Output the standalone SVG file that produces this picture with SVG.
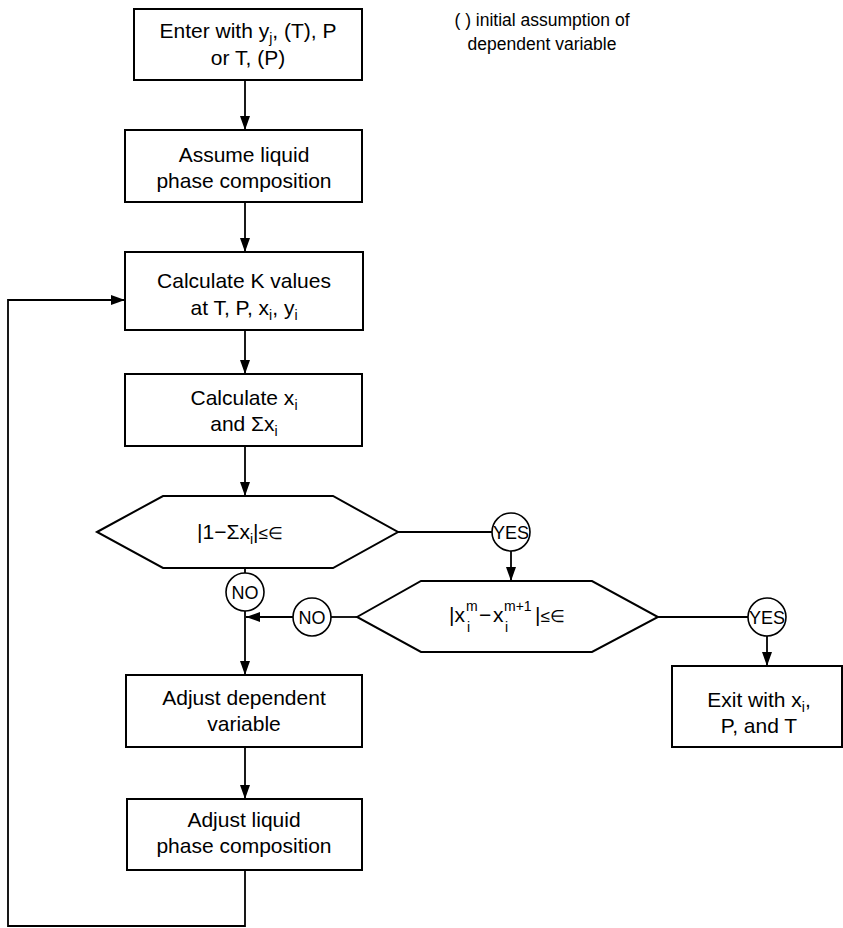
<svg xmlns="http://www.w3.org/2000/svg" width="843" height="928" viewBox="0 0 843 928">
<style>
.box{fill:#fff;stroke:#000;stroke-width:2}
.cir{fill:#fff;stroke:#000;stroke-width:1.6}
.t{font-family:"Liberation Sans",Arial,sans-serif;font-size:21px;fill:#000;text-anchor:middle}
.f{font-family:"Liberation Sans",Arial,sans-serif;font-size:21px;fill:#000}
.s{font-family:"Liberation Sans",Arial,sans-serif;font-size:14px;fill:#000}
.c{font-family:"Liberation Sans",Arial,sans-serif;font-size:18px;fill:#000;text-anchor:middle}
.n{font-family:"Liberation Sans",Arial,sans-serif;font-size:17.5px;fill:#000;text-anchor:middle}
.ln{fill:none;stroke:#000;stroke-width:1.8}
.sub{font-size:14px}
.le{font-size:17px}
</style>
<defs>
<marker id="ah" markerUnits="userSpaceOnUse" markerWidth="15" markerHeight="10" refX="14" refY="5" orient="auto">
<path d="M0,0 L14,5 L0,10 z" fill="#000"/>
</marker>
</defs>
<g id="connectors">
<path class="ln" d="M245,80 V130" marker-end="url(#ah)"/>
<path class="ln" d="M245,202 V252" marker-end="url(#ah)"/>
<path class="ln" d="M245,330 V374" marker-end="url(#ah)"/>
<path class="ln" d="M245,446 V496" marker-end="url(#ah)"/>
<path class="ln" d="M398,532 H492"/>
<path class="ln" d="M511,551 V581" marker-end="url(#ah)"/>
<path class="ln" d="M658,617 H748"/>
<path class="ln" d="M767,636 V666" marker-end="url(#ah)"/>
<path class="ln" d="M245,568 V573"/>
<path class="ln" d="M245,611 V675" marker-end="url(#ah)"/>
<path class="ln" d="M357,617 H331"/>
<path class="ln" d="M293,617 H246" marker-end="url(#ah)"/>
<path class="ln" d="M245,747 V799" marker-end="url(#ah)"/>
<path class="ln" d="M245,870 V926 H8 V300 H125" marker-end="url(#ah)"/>
</g>
<g id="note">
<text class="n" x="542" y="26">( ) initial assumption of</text>
<text class="n" x="542" y="50">dependent variable</text>
</g>
<g id="enter">
<rect class="box" x="134" y="9" width="228" height="71"/>
<text class="t" x="248" y="38">Enter with y<tspan class="sub" dy="5">j</tspan><tspan dy="-5">, (T), P</tspan></text>
<text class="t" x="248" y="65">or T, (P)</text>
</g>
<g id="assume">
<rect class="box" x="125" y="130" width="237" height="72"/>
<text class="t" x="244" y="162">Assume liquid</text>
<text class="t" x="244" y="188">phase composition</text>
</g>
<g id="calck">
<rect class="box" x="125" y="252" width="238" height="78"/>
<text class="t" x="244" y="288">Calculate K values</text>
<text class="t" x="244" y="315">at T, P, x<tspan class="sub" dy="5">i</tspan><tspan dy="-5">, y</tspan><tspan class="sub" dy="5">i</tspan></text>
</g>
<g id="calcx">
<rect class="box" x="125" y="374" width="237" height="72"/>
<text class="t" x="244" y="405">Calculate x<tspan class="sub" dy="5">i</tspan></text>
<text class="t" x="244" y="431">and Σx<tspan class="sub" dy="5">i</tspan></text>
</g>
<g id="check1">
<polygon class="box" points="97,532 163,496 333,496 398,532 333,568 163,568"/>
<text class="t" x="240" y="539">|1−Σx<tspan class="sub" dy="5">i</tspan><tspan dy="-5">|</tspan><tspan class="le">≤∈</tspan></text>
</g>
<g id="yes1">
<circle class="cir" cx="511" cy="532" r="19"/>
<text class="c" x="511" y="538.5">YES</text>
</g>
<g id="check2">
<polygon class="box" points="357,617 421,581 592,581 658,617 592,652 421,652"/>
<text class="f" x="449" y="622">|x</text>
<text class="s" x="466" y="611">m</text>
<text class="s" x="467" y="632">i</text>
<text class="f" x="479" y="622">−</text>
<text class="f" x="493" y="622">x</text>
<text class="s" x="504" y="611">m+1</text>
<text class="s" x="505" y="632">i</text>
<text class="f" x="535" y="622">|<tspan class="le">≤∈</tspan></text>
</g>
<g id="no1">
<circle class="cir" cx="245" cy="592" r="19"/>
<text class="c" x="245" y="598.5">NO</text>
</g>
<g id="no2">
<circle class="cir" cx="312" cy="617" r="19"/>
<text class="c" x="312" y="623.5">NO</text>
</g>
<g id="yes2">
<circle class="cir" cx="767" cy="617" r="19"/>
<text class="c" x="767" y="623.5">YES</text>
</g>
<g id="exit">
<rect class="box" x="672" y="666" width="170" height="81"/>
<text class="t" x="759" y="707">Exit with x<tspan class="sub" dy="5">i</tspan><tspan dy="-5">,</tspan></text>
<text class="t" x="759" y="733">P, and T</text>
</g>
<g id="adjdep">
<rect class="box" x="126" y="675" width="236" height="72"/>
<text class="t" x="244" y="705">Adjust dependent</text>
<text class="t" x="244" y="731">variable</text>
</g>
<g id="adjliq">
<rect class="box" x="127" y="799" width="235" height="71"/>
<text class="t" x="244" y="827">Adjust liquid</text>
<text class="t" x="244" y="853">phase composition</text>
</g>
</svg>
